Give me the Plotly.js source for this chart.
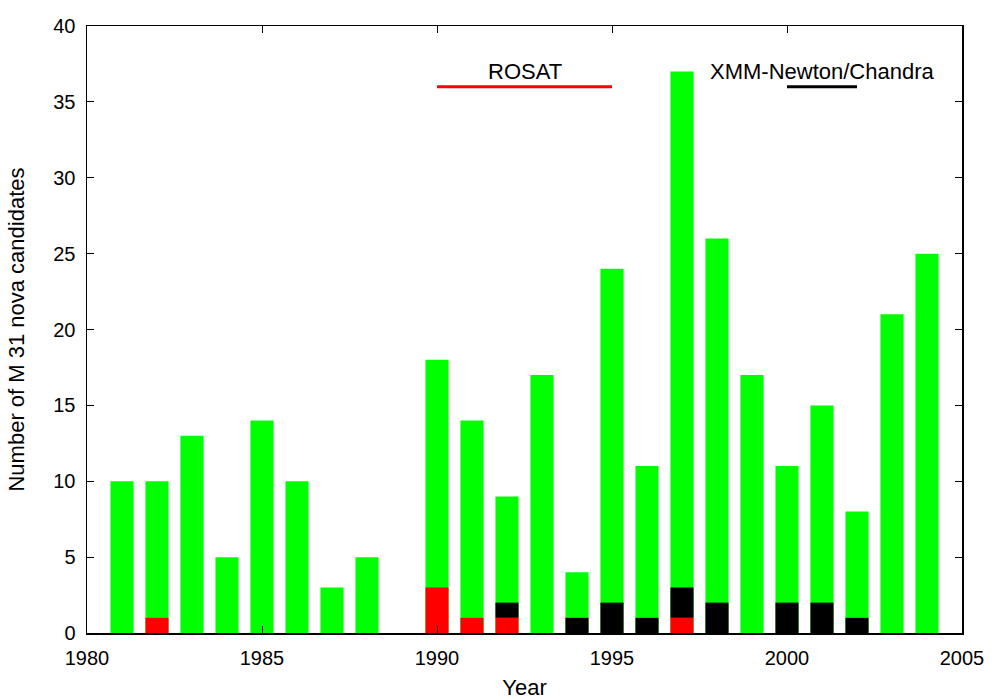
<!DOCTYPE html>
<html>
<head>
<meta charset="utf-8">
<script src="https://cdn.plot.ly/plotly-3.0.1.min.js"></script>
<style>html,body{margin:0;padding:0;background:#fff;}#chart{width:1000px;height:700px;}</style>
</head>
<body>
<div id="chart"></div>
<script>
const years = [1981,1982,1983,1984,1985,1986,1987,1988,1989,1990,1991,1992,1993,1994,1995,1996,1997,1998,1999,2000,2001,2002,2003,2004];
const totalNovae = [10,10,13,5,14,10,3,5,0,18,14,9,17,4,24,11,37,26,17,11,15,8,21,25];
const rosatNovae = [0,1,0,0,0,0,0,0,0,3,1,1,0,0,0,0,1,0,0,0,0,0,0,0];
const xmmNovae   = [0,0,0,0,0,0,0,0,0,0,0,1,0,1,2,1,2,2,0,2,2,1,0,0];
const rosatPeriod = [1990,1995];
const xmmPeriod = [2000,2002];
const markerLevel = 36;

const font = "Liberation Sans, Arial, Helvetica, sans-serif";
const bw = 0.66;
const traces = [
  {type:'bar', x:years, y:totalNovae, width:bw, marker:{color:'#00ff00', line:{width:0}}},
  {type:'bar', x:years, y:xmmNovae, base:rosatNovae, width:bw, marker:{color:'#000000', line:{width:0}}},
  {type:'bar', x:years, y:rosatNovae, width:bw, marker:{color:'#ff0000', line:{width:0}}}
];
const layout = {
  width:1000, height:700,
  margin:{l:87, r:38, t:26, b:67},
  paper_bgcolor:'#fff', plot_bgcolor:'#fff',
  barmode:'overlay', showlegend:false,
  font:{family:font, size:20, color:'#000'},
  xaxis:{range:[1980,2005], dtick:5, tick0:1980, ticks:'inside', ticklen:7, tickwidth:1, tickcolor:'#000',
         mirror:'ticks', showline:true, linecolor:'#000', linewidth:1.5, showgrid:false, zeroline:false,
         ticklabelstandoff:6,
         tickfont:{family:font, size:20}, title:{text:'Year', font:{family:font, size:22}, standoff:12}},
  yaxis:{range:[0,40], dtick:5, ticks:'inside', ticklen:7, tickwidth:1, tickcolor:'#000',
         mirror:'ticks', showline:true, linecolor:'#000', linewidth:1.5, showgrid:false, zeroline:false,
         ticklabelstandoff:6,
         tickfont:{family:font, size:20}, title:{text:'Number of M 31 nova candidates', font:{family:font, size:22}, standoff:22}},
  shapes:[
    {type:'line', xref:'x', yref:'y', x0:rosatPeriod[0], x1:rosatPeriod[1], y0:markerLevel, y1:markerLevel, line:{color:'#ff0000', width:3}},
    {type:'line', xref:'x', yref:'y', x0:xmmPeriod[0], x1:xmmPeriod[1], y0:markerLevel, y1:markerLevel, line:{color:'#000000', width:3}}
  ],
  annotations:[
    {xref:'x', yref:'y', x:(rosatPeriod[0]+rosatPeriod[1])/2, y:markerLevel+1, text:'ROSAT', showarrow:false, yanchor:'middle', font:{family:font, size:22}},
    {xref:'x', yref:'y', x:(xmmPeriod[0]+xmmPeriod[1])/2, y:markerLevel+1, text:'XMM-Newton/Chandra', showarrow:false, yanchor:'middle', font:{family:font, size:22}}
  ]
};
Plotly.newPlot('chart', traces, layout, {displayModeBar:false, staticPlot:true});
</script>
</body>
</html>
